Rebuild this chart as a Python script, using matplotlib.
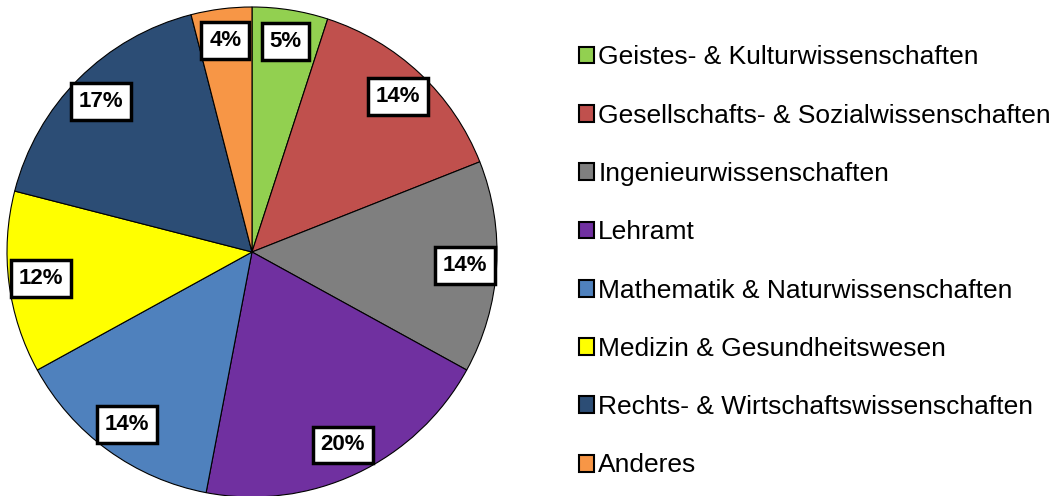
import matplotlib
matplotlib.use("Agg")
import matplotlib.pyplot as plt

plt.rcParams['font.family'] = ['Liberation Sans', 'DejaVu Sans']

categories = [
    "Geistes- & Kulturwissenschaften",
    "Gesellschafts- & Sozialwissenschaften",
    "Ingenieurwissenschaften",
    "Lehramt",
    "Mathematik & Naturwissenschaften",
    "Medizin & Gesundheitswesen",
    "Rechts- & Wirtschaftswissenschaften",
    "Anderes",
]
shares = [5, 14, 14, 20, 14, 12, 17, 4]
colors = ["#92D050", "#C0504D", "#7F7F7F", "#7030A0",
          "#4F81BD", "#FFFF00", "#2C4D75", "#F79646"]

fig = plt.figure(figsize=(10.54, 4.96), dpi=100)
ax = fig.add_axes([7 / 1054, -1 / 496, 490 / 1054, 490 / 496])

wedges, texts, autotexts = ax.pie(
    shares, colors=colors, startangle=90, counterclock=False,
    autopct=lambda p: f"{p:.0f}%", pctdistance=0.87,
    wedgeprops=dict(edgecolor="black", linewidth=0.8),
)
for t in autotexts:
    t.set_fontsize(16)
    t.set_fontweight("bold")
    t.set_bbox(dict(boxstyle="square,pad=0.35", fc="white", ec="black", lw=2.5))

ax.set_xlim(-1, 1)
ax.set_ylim(-1, 1)
ax.set_aspect("equal")
ax.axis("off")

fig.legend(wedges, categories, loc="center left",
           bbox_to_anchor=(568 / 1054, 0.473), frameon=False,
           prop={"size": 19}, handlelength=0.6, handleheight=0.6,
           handletextpad=0.15, labelspacing=1.3, borderaxespad=0)
for h in fig.legends[0].legend_handles:
    h.set_edgecolor("black")
    h.set_linewidth(1.5)

fig.savefig("out.png", dpi=100)
